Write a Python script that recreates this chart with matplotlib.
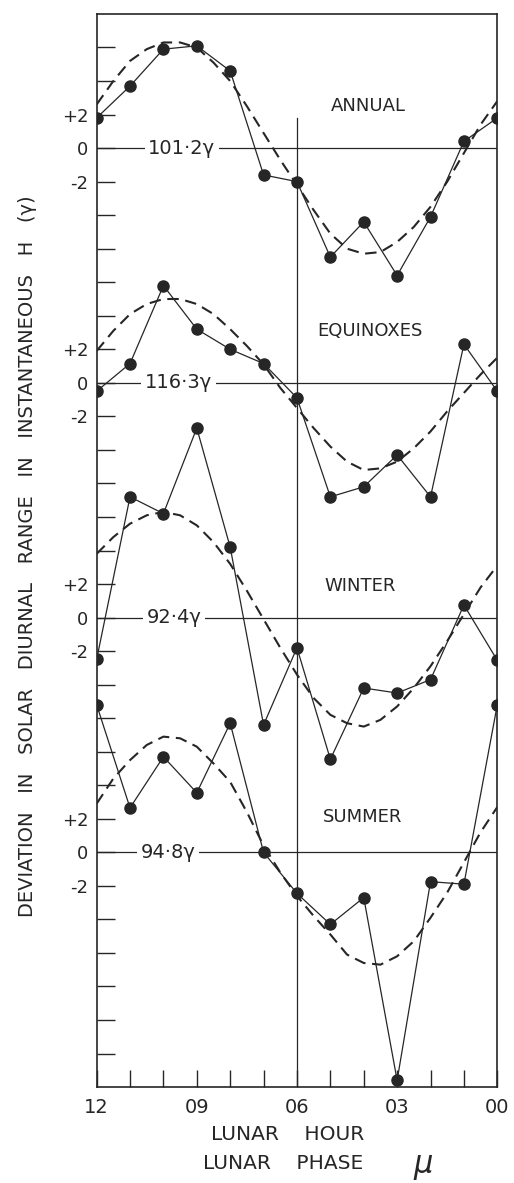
import numpy as np
import matplotlib
matplotlib.use("Agg")
import matplotlib.pyplot as plt

# lunar hours, plotted right-to-left 12 -> 00
hours = [12, 11, 10, 9, 8, 7, 6, 5, 4, 3, 2, 1, 0]
fit_hours = [12, 11.5, 11, 10.5, 10, 9.5, 9, 8.5, 8, 7.5, 7, 6.5, 6,
             5.5, 5, 4.5, 4, 3.5, 3, 2.5, 2, 1.5, 1, 0.5, 0]

# observed deviations (gamma)
annual = [1.8, 3.7, 5.9, 6.1, 4.6, -1.6, -2.0, -6.5, -4.4, -7.6, -4.1, 0.4, 1.8]
equinox = [-0.5, 1.15, 5.8, 3.2, 2.0, 1.15, -0.9, -6.8, -6.2, -4.3, -6.8, 2.3, -0.5]
winter = [-2.5, 7.2, 6.2, 11.3, 4.2, -6.4, -1.8, -8.45, -4.2, -4.5, -3.7, 0.75, -2.55]
summer = [8.8, 2.65, 5.7, 3.55, 7.7, 0.0, -2.45, -4.3, -2.7, -13.6, -1.75, -1.9, 8.8]

# dashed curves at half-hour steps
annual_fit = [2.6, 4.0, 5.2, 5.9, 6.3, 6.3, 6.0, 5.1, 4.0, 2.5, 0.9, -0.7, -2.2,
              -3.7, -5.1, -6.0, -6.3, -6.2, -5.6, -4.7, -3.5, -2.0, -0.3, 1.4, 2.8]
equinox_fit = [1.9, 3.1, 4.1, 4.7, 5.0, 5.0, 4.7, 4.1, 3.2, 2.2, 1.1, -0.3, -1.5,
               -2.7, -3.8, -4.7, -5.2, -5.1, -4.7, -3.9, -2.9, -1.7, -0.6, 0.5, 1.5]
winter_fit = [3.8, 4.8, 5.6, 6.1, 6.3, 6.1, 5.5, 4.5, 3.2, 1.6, -0.1, -1.8, -3.4,
              -4.8, -5.8, -6.3, -6.5, -6.1, -5.3, -4.2, -2.9, -1.4, 0.2, 1.8, 3.1]
summer_fit = [2.9, 4.4, 5.5, 6.4, 6.9, 6.8, 6.3, 5.3, 4.2, 2.4, 0.4, -1.2, -2.6,
              -3.8, -4.9, -6.1, -6.6, -6.7, -6.2, -5.3, -3.9, -2.4, -0.6, 1.2, 2.7]

names = ["ANNUAL", "EQUINOXES", "WINTER", "SUMMER"]
means = ["101·2γ", "116·3γ", "92·4γ", "94·8γ"]
offsets = [0, -14, -28, -42]
observed = [annual, equinox, winter, summer]
fitted = [annual_fit, equinox_fit, winter_fit, summer_fit]

ink = "#262626"
plt.rcParams["font.family"] = "DejaVu Sans"

fig = plt.figure(figsize=(5.14, 11.83), dpi=100)
ax = fig.add_axes([0.188, 0.0811, 0.7795, 0.9071])

name_pos = [(3.87, 2.5), (3.8, 3.1), (4.1, 1.9), (4.05, 2.1)]
mean_pos = [9.45, 9.55, 9.68, 9.85]

for k in range(4):
    off = offsets[k]
    ax.axhline(off, color=ink, lw=0.9, zorder=1)
    ax.plot(hours, np.array(observed[k]) + off, color=ink, lw=0.9,
            marker="o", ms=8, mfc=ink, mec=ink, zorder=4)
    ln, = ax.plot(fit_hours, np.array(fitted[k]) + off, color=ink, lw=1.5, zorder=3)
    ln.set_dashes((5.5, 3.2))
    ax.text(mean_pos[k], off, means[k], ha="center", va="center", fontsize=14,
            color=ink, zorder=5,
            bbox=dict(facecolor="white", edgecolor="none", pad=2.5))
    ax.text(name_pos[k][0], off + name_pos[k][1], names[k], ha="center",
            va="center", fontsize=13, color=ink, zorder=5)

ax.plot([6, 6], [-56, 1.8], color=ink, lw=0.9, zorder=1)

ax.set_xlim(12, 0)
ax.set_ylim(-56, 8)

ax.set_xticks(hours)
ax.set_xticklabels(["12", "", "", "09", "", "", "06", "", "", "03", "", "", "00"])
yt = list(range(-54, 8, 2))
ax.set_yticks(yt)
lab = {2: "+2", 0: "0", -2: "-2"}
ylabels = []
for v in yt:
    s = ""
    for off in offsets:
        if v - off in lab:
            s = lab[v - off]
    ylabels.append(s)
ax.set_yticklabels(ylabels)
ax.tick_params(axis="x", direction="in", length=12, width=1.0, pad=8,
               labelsize=14, colors=ink)
ax.tick_params(axis="y", direction="in", length=13, width=1.0, pad=6,
               labelsize=13, colors=ink)
for s in ax.spines.values():
    s.set_color(ink)
    s.set_linewidth(1.2)

fig.text(0.053, 0.53, "DEVIATION   IN   SOLAR   DIURNAL   RANGE   IN   INSTANTANEOUS   H   (γ)",
         rotation=90, ha="center", va="center", fontsize=14, color=ink)
fig.text(0.56, 0.0406, "LUNAR    HOUR", ha="center", va="center", fontsize=14.5, color=ink)
fig.text(0.55, 0.0165, "LUNAR    PHASE", ha="center", va="center", fontsize=14.5, color=ink)
fig.text(0.823, 0.015, "μ", ha="center", va="center", fontsize=22, style="italic", color=ink)

fig.savefig("out.png", dpi=100, facecolor="white")
